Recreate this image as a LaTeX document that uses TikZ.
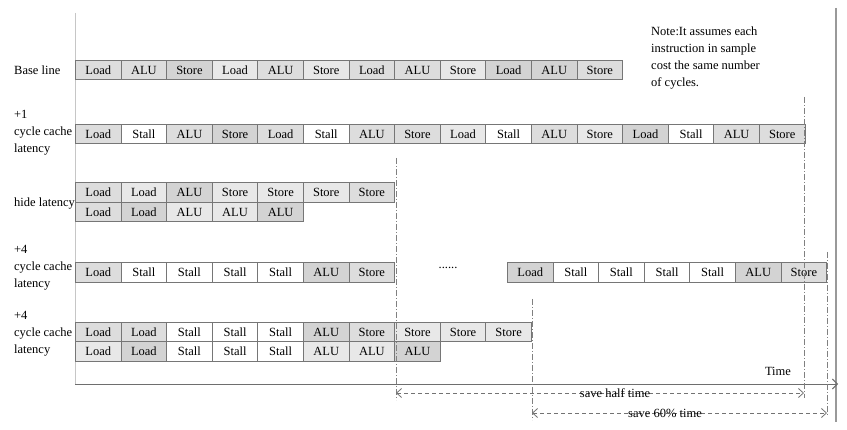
\documentclass[tikz,border=0pt]{standalone}
\usepackage{fontspec}
\setmainfont{Liberation Serif}
\usetikzlibrary{arrows.meta}
\definecolor{cA}{HTML}{D3D3D3}
\definecolor{cB}{HTML}{DDDDDD}
\definecolor{cC}{HTML}{E8E8E8}
\definecolor{cW}{HTML}{FFFFFF}
\definecolor{boxline}{HTML}{767676}
\definecolor{axisline}{HTML}{6E6E6E}
\newcommand\cellrow[4]{%
  \foreach \t/\c [count=\i] in {#4} {%
    \node[cell, fill=c\c] (#1-\i) at ({#2+(\i-1)*45.6}, #3) {\t};}}
\begin{document}
\begin{tikzpicture}[x=1pt, y=-1pt,
  txt/.style={font=\fontsize{12.5}{17}\selectfont, inner sep=0pt},
  cell/.style={txt, draw=boxline, line width=0.9pt, minimum width=45.6pt,
    minimum height=19.5pt, anchor=north west},
  lbl/.style={txt, align=left, anchor=west},
  dashdotline/.style={draw=gray, line width=0.7pt, dash pattern=on 6pt off 2pt on 1pt off 2pt},
  dasharrow/.style={draw=gray!90!black, line width=0.8pt, dash pattern=on 4pt off 3pt,
    {Straight Barb[length=5pt,width=9pt]}-{Straight Barb[length=5pt,width=9pt]}},
]
\useasboundingbox (0,0) rectangle (847,430);
\fill[white] (0,0) rectangle (847,430);

% frame lines
\coordinate (lefttop) at (75,13);
\coordinate (axisstart) at (75,384);
\coordinate (axisend) at (838,384);
\coordinate (righttop) at (836,8);
\coordinate (rightbot) at (836,422);
\draw[gray!45, line width=0.5pt] (lefttop) -- (axisstart);
\draw[gray!80, line width=1.2pt] (righttop) -- (rightbot);

% rows
\cellrow{base}{75}{60}{Load/B, ALU/B, Store/A, Load/C, ALU/B, Store/C, Load/B, ALU/B, Store/C, Load/A, ALU/A, Store/B}
\cellrow{one}{75}{124}{Load/B, Stall/W, ALU/B, Store/A, Load/B, Stall/W, ALU/B, Store/B, Load/C, Stall/W, ALU/B, Store/C, Load/A, Stall/W, ALU/B, Store/B}
\cellrow{hidet}{75}{182.5}{Load/B, Load/C, ALU/A, Store/C, Store/C, Store/C, Store/B}
\cellrow{hideb}{75}{202}{Load/B, Load/A, ALU/C, ALU/C, ALU/A}
\cellrow{fourl}{75}{262.5}{Load/B, Stall/W, Stall/W, Stall/W, Stall/W, ALU/A, Store/B}
\cellrow{fourr}{507}{262.5}{Load/A, Stall/W, Stall/W, Stall/W, Stall/W, ALU/A, Store/B}
\cellrow{fivet}{75}{322}{Load/B, Load/B, Stall/W, Stall/W, Stall/W, ALU/A, Store/B, Store/C, Store/C, Store/C}
\cellrow{fiveb}{75}{341.5}{Load/C, Load/A, Stall/W, Stall/W, Stall/W, ALU/C, ALU/C, ALU/A}

% row labels
\node[lbl] (lbase) at (14,70) {Base line};
\node[lbl] (lone) at (14,133) {+1\\cycle cache\\latency};
\node[lbl] (lhide) at (14,203.5) {hide latency};
\node[lbl] (lfour) at (14,268) {+4\\cycle cache\\latency};
\node[lbl] (lfive) at (14,334) {+4\\cycle cache\\latency};

\node[lbl] (note) at (651,58.5) {Note:It assumes each\\instruction in sample\\cost the same number\\of cycles.};
\node[txt] (dots) at (448,268) {......};
\node[txt] (time) at (778,371.5) {Time};

% time axis
\draw[axisline, line width=0.9pt, -{Straight Barb[length=5pt,width=10pt]}] (axisstart) -- (axisend);

% vertical dash-dot markers
\coordinate (va1) at (396,158); \coordinate (va2) at (396,400);
\coordinate (vb1) at (804,97);  \coordinate (vb2) at (804,398);
\coordinate (vc1) at (532,299); \coordinate (vc2) at (532,420);
\coordinate (vd1) at (827,252); \coordinate (vd2) at (827,416);
\draw[dashdotline] (va1) -- (va2);
\draw[dashdotline] (vb1) -- (vb2);
\draw[dashdotline] (vc1) -- (vc2);
\draw[dashdotline] (vd1) -- (vd2);

% saving arrows
\coordinate (ha1) at (396,393); \coordinate (ha2) at (804,393);
\coordinate (sa1) at (532,413); \coordinate (sa2) at (827,413);
\draw[dasharrow] (ha1) -- (ha2);
\draw[dasharrow] (sa1) -- (sa2);
\node[txt] (halftxt) at (615,393) {save half time};
\node[txt] (sixtytxt) at (665,413) {save 60\% time};
\end{tikzpicture}
\end{document}
